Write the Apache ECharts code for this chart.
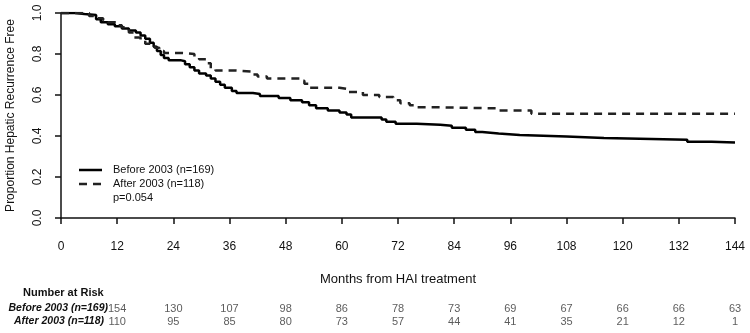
<!DOCTYPE html>
<html>
<head>
<meta charset="utf-8">
<script src="https://cdn.jsdelivr.net/npm/echarts@6/dist/echarts.min.js"></script>
<style>
  html, body { margin: 0; padding: 0; background: #fff; }
  #chart { width: 750px; height: 333px; }
</style>
</head>
<body>
<div id="chart"></div>
<script>
// Kaplan-Meier steps: [month, proportion]
const beforeMonths = [0, 3, 5, 7.5, 8.5, 10, 11.5, 13, 14.5, 16, 17, 18, 19, 19.8, 20.5, 21.3, 22, 23, 25.5, 26.5, 27.5, 28.5, 29.5, 31, 32, 33, 34, 35, 36.5, 37.5, 41, 42.5, 46.5, 49, 51.5, 53, 54.5, 57, 59.5, 61, 62, 68.5, 69.5, 71.5, 76, 81, 83.5, 86.5, 88.5, 90, 93.5, 98, 108, 116, 133.8, 139, 144];
const beforeSurv   = [1.0, 0.995, 0.99, 0.97, 0.955, 0.945, 0.935, 0.925, 0.915, 0.905, 0.89, 0.875, 0.855, 0.835, 0.815, 0.795, 0.78, 0.77, 0.765, 0.75, 0.735, 0.72, 0.705, 0.695, 0.68, 0.665, 0.65, 0.635, 0.62, 0.61, 0.605, 0.595, 0.585, 0.575, 0.565, 0.55, 0.535, 0.525, 0.515, 0.505, 0.49, 0.48, 0.47, 0.46, 0.455, 0.45, 0.44, 0.43, 0.42, 0.412, 0.405, 0.398, 0.39, 0.382, 0.372, 0.368, 0.368];

const afterMonths = [0, 6, 7, 9, 10, 12, 13, 14.5, 15.5, 17, 18, 20, 21, 22, 26, 28.5, 29.5, 31, 32, 33, 37, 40.5, 42, 44, 51, 52, 53, 59.5, 61, 64.5, 68, 71, 72.5, 74.5, 76, 80, 93, 100.5, 144];
const afterSurv   = [1.0, 0.985, 0.975, 0.965, 0.955, 0.94, 0.93, 0.905, 0.88, 0.865, 0.85, 0.83, 0.815, 0.805, 0.80, 0.785, 0.775, 0.755, 0.73, 0.72, 0.715, 0.70, 0.69, 0.68, 0.67, 0.655, 0.635, 0.63, 0.615, 0.60, 0.59, 0.575, 0.56, 0.55, 0.54, 0.535, 0.525, 0.508, 0.508];

// number at risk table
const riskMonths = [12, 24, 36, 48, 60, 72, 84, 96, 108, 120, 132, 144];
const riskBefore = [154, 130, 107, 98, 86, 78, 73, 69, 67, 66, 66, 63];
const riskAfter  = [110, 95, 85, 80, 73, 57, 44, 41, 35, 21, 12, 1];

const beforeName = 'Before 2003 (n=169)';
const afterName = 'After 2003 (n=118)';

const font = 'Liberation Sans, Arial, sans-serif';

const zip = (xs, ys) => xs.map((x, i) => [x, ys[i]]);

var chartDom = document.getElementById('chart');
var myChart = echarts.init(chartDom);

var legendText = (text, top) => ({
  type: 'text', left: 113, top: top,
  style: { text: text, fontSize: 11, fill: '#111', fontFamily: font }
});

var option = {
  animation: false,
  textStyle: { fontFamily: font },
  grid: [
    { left: 61, right: 15, top: 13, height: 205, containLabel: false, outerBoundsMode: 'none' },
    { left: 61, right: 15, top: 302, height: 26, containLabel: false, outerBoundsMode: 'none' }
  ],
  graphic: [
    // legend keys
    { type: 'line', shape: { x1: 79, y1: 170, x2: 102, y2: 170 }, style: { stroke: '#000', lineWidth: 2.5 } },
    { type: 'line', shape: { x1: 79, y1: 184, x2: 102, y2: 184 }, style: { stroke: '#222', lineWidth: 2.5, lineDash: [8, 6] } },
    legendText(beforeName, 164),
    legendText(afterName, 178),
    legendText('p=0.054', 192),
    { type: 'text', left: 23, top: 287, style: { text: 'Number at Risk', fontSize: 11, fontWeight: 'bold', fill: '#111', fontFamily: font } },
    { type: 'text', right: 750 - 108, top: 303, style: { text: beforeName, fontSize: 10.5, fontWeight: 'bold', fontStyle: 'italic', fill: '#111', fontFamily: font } },
    { type: 'text', right: 750 - 104, top: 316, style: { text: afterName, fontSize: 10.5, fontWeight: 'bold', fontStyle: 'italic', fill: '#111', fontFamily: font } }
  ],
  xAxis: [
    {
      gridIndex: 0,
      type: 'value',
      min: 0,
      max: 144,
      interval: 12,
      offset: 10,
      name: 'Months from HAI treatment',
      nameLocation: 'middle',
      nameGap: 45,
      nameTextStyle: { fontSize: 13, color: '#111', fontFamily: font },
      axisLine: { show: true, lineStyle: { color: '#111', width: 1.5 } },
      axisTick: { show: true, length: 6, lineStyle: { color: '#111', width: 1.5 } },
      axisLabel: { fontSize: 12, color: '#111', margin: 13 },
      splitLine: { show: false }
    },
    {
      gridIndex: 1,
      type: 'value',
      min: 0,
      max: 144,
      show: false
    }
  ],
  yAxis: [
    {
      gridIndex: 0,
      type: 'value',
      min: 0,
      max: 1,
      interval: 0.2,
      name: 'Proportion Hepatic Recurrence Free',
      nameLocation: 'middle',
      nameGap: 44,
      nameRotate: 90,
      nameTextStyle: { fontSize: 12, color: '#111', fontFamily: font },
      axisLine: { show: true, lineStyle: { color: '#111', width: 1.5 } },
      axisTick: { show: true, length: 6, lineStyle: { color: '#111', width: 1.5 } },
      axisLabel: {
        fontSize: 12,
        color: '#111',
        rotate: 90,
        margin: 17,
        formatter: (v) => v.toFixed(1)
      },
      splitLine: { show: false }
    },
    {
      gridIndex: 1,
      type: 'category',
      data: ['after', 'before'],
      show: false
    }
  ],
  series: [
    {
      name: beforeName,
      type: 'line',
      step: 'end',
      symbol: 'none',
      data: zip(beforeMonths, beforeSurv),
      lineStyle: { color: '#000', width: 2.5 },
      itemStyle: { color: '#000' }
    },
    {
      name: afterName,
      type: 'line',
      step: 'end',
      symbol: 'none',
      data: zip(afterMonths, afterSurv),
      lineStyle: { color: '#222', width: 2.5, type: [8, 6] },
      itemStyle: { color: '#222' }
    },
    {
      type: 'scatter',
      xAxisIndex: 1,
      yAxisIndex: 1,
      symbolSize: 0,
      data: riskMonths.map((m, i) => [m, 'before', riskBefore[i]]),
      label: { show: true, position: 'inside', fontSize: 11, color: '#333', formatter: (p) => p.value[2] }
    },
    {
      type: 'scatter',
      xAxisIndex: 1,
      yAxisIndex: 1,
      symbolSize: 0,
      data: riskMonths.map((m, i) => [m, 'after', riskAfter[i]]),
      label: { show: true, position: 'inside', fontSize: 11, color: '#333', formatter: (p) => p.value[2] }
    }
  ]
};

myChart.setOption(option);
</script>
</body>
</html>
